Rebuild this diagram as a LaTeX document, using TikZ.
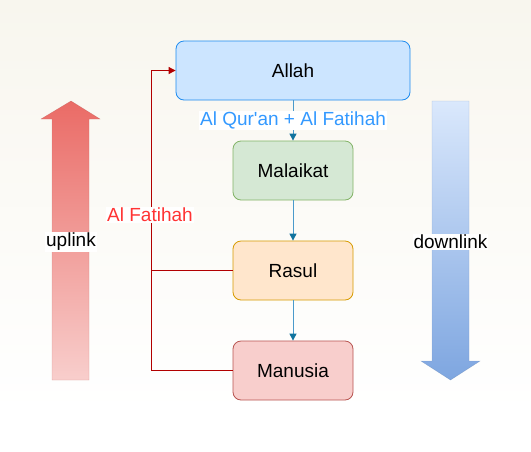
\documentclass[tikz,border=0pt]{standalone}
\usepackage{fontspec}
\setmainfont{Liberation Sans}[Ligatures=TeXOff]
\usepackage{xcolor}
\usetikzlibrary{arrows.meta}

\definecolor{pageTop}{HTML}{F8F6EE}
\definecolor{allahFill}{HTML}{CCE5FF}
\definecolor{allahLine}{HTML}{1E8CF0}
\definecolor{malaikatFill}{HTML}{D5E8D4}
\definecolor{malaikatLine}{HTML}{82B366}
\definecolor{rasulFill}{HTML}{FFE6CC}
\definecolor{rasulLine}{HTML}{D79B00}
\definecolor{manusiaFill}{HTML}{F8CECC}
\definecolor{manusiaLine}{HTML}{B85450}
\definecolor{flowLine}{HTML}{4A9ACB}
\definecolor{flowTip}{HTML}{10739E}
\definecolor{flowText}{HTML}{3399FF}
\definecolor{backLine}{HTML}{B20000}
\definecolor{backText}{HTML}{FF3333}
\definecolor{upTop}{HTML}{EA6B66}
\definecolor{upBottom}{HTML}{F8CECC}
\definecolor{downTop}{HTML}{DAE8FC}
\definecolor{downBottom}{HTML}{7EA6E0}

\begin{document}
\begin{tikzpicture}[x=1pt, y=-1pt,
		box/.style={draw, rounded corners=8pt, minimum width=120pt, minimum height=59pt, line width=0.8pt, font=\fontsize{19}{22}\selectfont},
		flow/.style={draw=flowLine, line width=1pt, -{Triangle[width=7pt, length=7pt, color=flowTip]}},
		back/.style={draw=backLine, line width=0.9pt},
		tag/.style={fill=white, inner sep=1pt, font=\fontsize{19}{22}\selectfont}]
			\useasboundingbox (0,0) rectangle (531,451);
			\shade[top color=pageTop, bottom color=white] (0,0) rectangle (531,413);

			% the chain, top to bottom
			\node [box, fill=allahFill, draw=allahLine, minimum width=234pt] (allah) at (293,70.5) {Allah};
			\node [box, fill=malaikatFill, draw=malaikatLine] (malaikat) at (293,170.5) {Malaikat};
			\node [box, fill=rasulFill, draw=rasulLine] (rasul) at (293,270.5) {Rasul};
			\node [box, fill=manusiaFill, draw=manusiaLine] (manusia) at (293,370.5) {Manusia};

			\begin{scope}[flow]
				\draw (allah) -- (malaikat) node [tag, midway, text=flowText] {Al Qur'an + Al Fatihah};
				\draw (malaikat) -- (rasul);
				\draw (rasul) -- (manusia);
			\end{scope}

			% way back up
			\coordinate (backTop) at (151,70.5);
			\coordinate (backBottom) at (151,370.5);
			\begin{scope}[back]
				\draw (manusia.west) -- (backBottom) -- (backTop);
				\draw [-{Triangle[width=7pt, length=7pt]}] (backTop) -- (allah.west);
				\draw (rasul.west) -- (rasul.west -| backTop);
			\end{scope}
			\node [tag, text=backText] (fatihah) at (150,215) {Al Fatihah};

			% side arrows
			\shade [top color=upTop, bottom color=upBottom, draw=manusiaLine, draw opacity=0.45]
				(52,380) -- (52,119) -- (41,119) -- (71,101) -- (100,119) -- (89,119) -- (89,380) -- cycle;
			\shade [top color=downTop, bottom color=downBottom, draw=downBottom!80!black, draw opacity=0.45]
				(432,101) -- (469,101) -- (469,361) -- (480,361) -- (450.5,380) -- (421,361) -- (432,361) -- cycle;
			\node [tag] (uplink) at (71,242) {uplink};
			\node [tag] (downlink) at (450.5,242) {downlink};
		\end{tikzpicture}
\end{document}
